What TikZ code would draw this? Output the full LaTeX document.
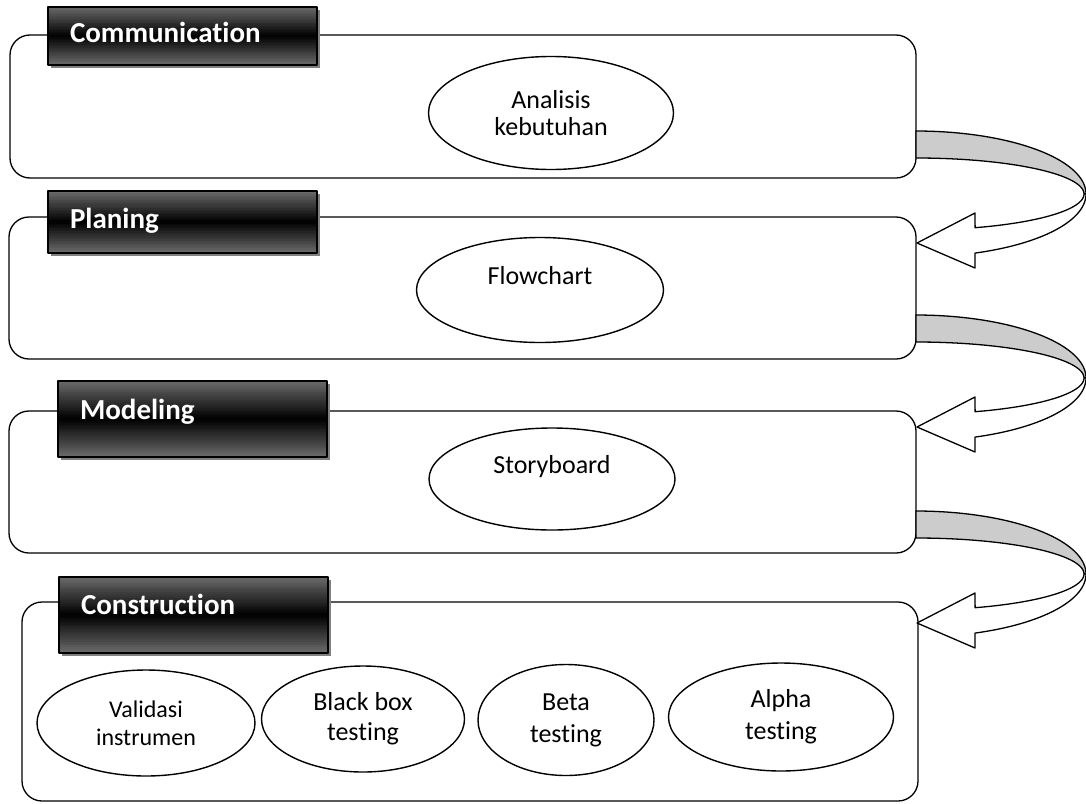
\documentclass[tikz,border=0pt]{standalone}
\usepackage{fontspec}
\setmainfont{Carlito}[Ligatures=NoCommon]
\usetikzlibrary{shapes.geometric,shadows,calc}
\definecolor{lblgray}{HTML}{6B6B6B}
\definecolor{bandgray}{HTML}{CCCCCC}
\begin{document}
\begin{tikzpicture}[x=1pt,y=-1pt,line join=round,
	stagebox/.style={draw,line width=1.3pt,rounded corners=20pt,inner sep=0pt},
	tagbox/.style={draw,line width=1.5pt,fill=lblgray,
		drop shadow={shadow xshift=3pt,shadow yshift=-3pt,fill=gray,opacity=1},
		path picture={
			\foreach \i in {0,...,39}{
				\pgfmathsetmacro\mix{100*abs(2*(\i+0.5)/40-1)}
				\fill[lblgray!\mix!black] ($(path picture bounding box.north west)!\i/40!(path picture bounding box.south west)$)
					rectangle ($(path picture bounding box.north east)!{(\i+1.3)/40}!(path picture bounding box.south east)$);
			}},
		minimum width=269pt,text width=225pt,inner xsep=22pt,align=left,text=white,
		font=\fontsize{29}{33}\bfseries\selectfont,text height=20pt,text depth=7pt},
	task/.style={ellipse,draw,line width=1.4pt,inner sep=0pt,align=center,font=\fontsize{26}{30}\selectfont},
	declare function={ox(\t)=916+170*cos(\t);ix(\t)=916+168*cos(\t);}]
	\useasboundingbox (0,0) rectangle (1086,803);
	\node[stagebox,minimum width=906pt,minimum height=143pt] (commbox) at (463,106.5) {};
	\node[stagebox,minimum width=907pt,minimum height=142pt] (planbox) at (462.5,288) {};
	\node[stagebox,minimum width=907pt,minimum height=142pt] (modelbox) at (462.5,482) {};
	\node[stagebox,minimum width=896pt,minimum height=199pt] (constbox) at (470,701.5) {};
	\node[tagbox,minimum height=58pt] (comm) at (182.5,36) {Communication};
	\node[tagbox,minimum height=62pt] (plan) at (182.5,222) {Planing};
	\node[tagbox,minimum height=76pt,text depth=19pt] (model) at (192.5,419) {Modeling};
	\node[tagbox,minimum height=76pt,text depth=21pt] (const) at (193.5,615) {Construction};
	\node[task,minimum width=245pt,minimum height=113pt,font=\fontsize{26}{27}\selectfont] (analisis) at (551,113) {Analisis\\kebutuhan};
	\node[task,minimum width=247pt,minimum height=105pt] (flow) at (540,290) {Flowchart\\\mbox{}};
	\node[task,minimum width=246pt,minimum height=102pt] (story) at (552,479) {Storyboard\\\mbox{}};
	\node[task,minimum width=218pt,minimum height=106pt,font=\fontsize{24}{28}\selectfont] (valid) at (146,723) {Validasi\\instrumen};
	\node[task,minimum width=203pt,minimum height=106pt] (blackbox) at (363,719) {Black box\\testing};
	\node[task,minimum width=176pt,minimum height=111pt,font=\fontsize{26}{32}\selectfont] (beta) at (566,720) {Beta\\testing};
	\node[task,minimum width=225pt,minimum height=108pt,font=\fontsize{26}{32}\selectfont] (alpha) at (781,717) {Alpha\\testing};
	\foreach \yt in {131,315,511}{
		\filldraw[fill=bandgray,line width=1.3pt] plot[domain=-90:0,samples=40] ({ox(\x)},{\yt+63+63*sin(\x)})
			-- plot[domain=0:-90,samples=40] ({ix(\x)},{\yt+63+36*sin(\x)}) -- cycle;
		\filldraw[fill=white,line width=1.3pt] plot[domain=0:69.7,samples=40] ({ox(\x)},{\yt+63+63*sin(\x)})
			-- (975,\yt+137) -- (917,\yt+112) -- (975,\yt+82)
			-- plot[domain=69.4:0,samples=40] ({ix(\x)},{\yt+63+36*sin(\x)}) -- cycle;
	}
\end{tikzpicture}
\end{document}
